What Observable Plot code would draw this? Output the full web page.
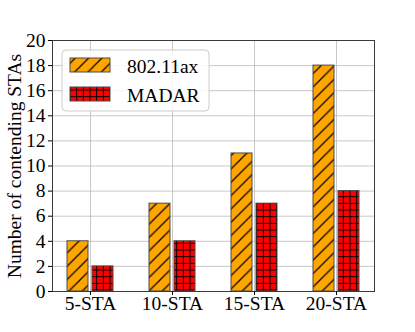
<!DOCTYPE html>
<html>
<head>
<meta charset="utf-8">
<script src="https://cdn.jsdelivr.net/npm/d3@7"></script>
<script src="https://cdn.jsdelivr.net/npm/@observablehq/plot@0.6"></script>
<style>
  html, body { margin: 0; padding: 0; background: white; }
  #chart { position: relative; width: 415px; height: 332px; }
</style>
</head>
<body>
<div id="chart"></div>
<script>
const categories = ["5-STA", "10-STA", "15-STA", "20-STA"];
const seriesNames = ["802.11ax", "MADAR"];
const ax11Values = [4, 7, 11, 18];
const madarValues = [2, 4, 7, 8];
const yTicks = [0, 2, 4, 6, 8, 10, 12, 14, 16, 18, 20];
const yLabel = "Number of contending STAs";

const axData = categories.map((c, i) => ({cat: c, v: ax11Values[i]}));
const madarData = categories.map((c, i) => ({cat: c, v: madarValues[i]}));

const fontFamily = "'Liberation Serif', 'DejaVu Serif', 'Times New Roman', serif";

const chart = Plot.plot({
  width: 415,
  height: 332,
  marginLeft: 52,
  marginRight: 41,
  marginTop: 40,
  marginBottom: 41,
  style: {fontFamily, fontSize: "19.5px", background: "white", color: "black"},
  x: {domain: categories, paddingInner: 0.2, paddingOuter: 0.05, label: null},
  y: {domain: [0, 20], label: yLabel},
  marks: [
    Plot.gridY({ticks: yTicks, stroke: "#b0b0b0", strokeOpacity: 0.7}),
    Plot.gridX({stroke: "#b0b0b0", strokeOpacity: 0.7}),
    Plot.barY(axData, {x: "cat", y: "v", fill: "url(#hatchOrange)", stroke: "#4a4a4a", strokeWidth: 1, insetLeft: 10, insetRight: 35}),
    Plot.barY(madarData, {x: "cat", y: "v", fill: "url(#hatchRed)", stroke: "#4a4a4a", strokeWidth: 1, insetLeft: 35, insetRight: 10}),
    Plot.frame({stroke: "#3a3a3a"}),
    Plot.axisY({ticks: yTicks, tickSize: 4, tickPadding: 3, fontSize: 19.5, label: null}),
    Plot.axisY({ticks: [], tickSize: 0, label: yLabel, labelAnchor: "center", labelArrow: "none", labelOffset: 45, fontSize: 19.5}),
    Plot.axisX({tickSize: 4, tickPadding: 1, fontSize: 19.5, label: null})
  ]
});

const ns = "http://www.w3.org/2000/svg";
const defs = document.createElementNS(ns, "defs");
defs.innerHTML = `
  <pattern id="hatchOrange" patternUnits="userSpaceOnUse" width="13.333" height="13.333">
    <rect width="13.333" height="13.333" fill="#ffa500"></rect>
    <path d="M-1,14.333 L14.333,-1 M-3,3 L3,-3 M10.333,16.333 L16.333,10.333" stroke="black" stroke-width="1.2"></path>
  </pattern>
  <pattern id="hatchRed" patternUnits="userSpaceOnUse" width="6.667" height="6.667">
    <rect width="6.667" height="6.667" fill="#ff0000"></rect>
    <path d="M3.333,0 L3.333,6.667 M0,3.333 L6.667,3.333" stroke="black" stroke-width="1"></path>
  </pattern>`;
chart.prepend(defs);

// legend (inside the plot area, upper left)
const leg = document.createElementNS(ns, "g");
const textStyle = `font-family: ${fontFamily}; font-size: 19.5px; text-anchor: start;`;
leg.innerHTML = `
  <rect x="62" y="50" width="147" height="61" rx="4" fill="white" fill-opacity="0.85" stroke="#cccccc"></rect>
  <rect x="70" y="58" width="40" height="14" fill="url(#hatchOrange)" stroke="#4a4a4a"></rect>
  <rect x="70" y="87" width="40" height="14" fill="url(#hatchRed)" stroke="#4a4a4a"></rect>
  <text x="127" y="73" fill="black" style="${textStyle}">${seriesNames[0]}</text>
  <text x="127" y="102" fill="black" style="${textStyle}">${seriesNames[1]}</text>`;
chart.appendChild(leg);

document.getElementById("chart").appendChild(chart);
</script>
</body>
</html>
